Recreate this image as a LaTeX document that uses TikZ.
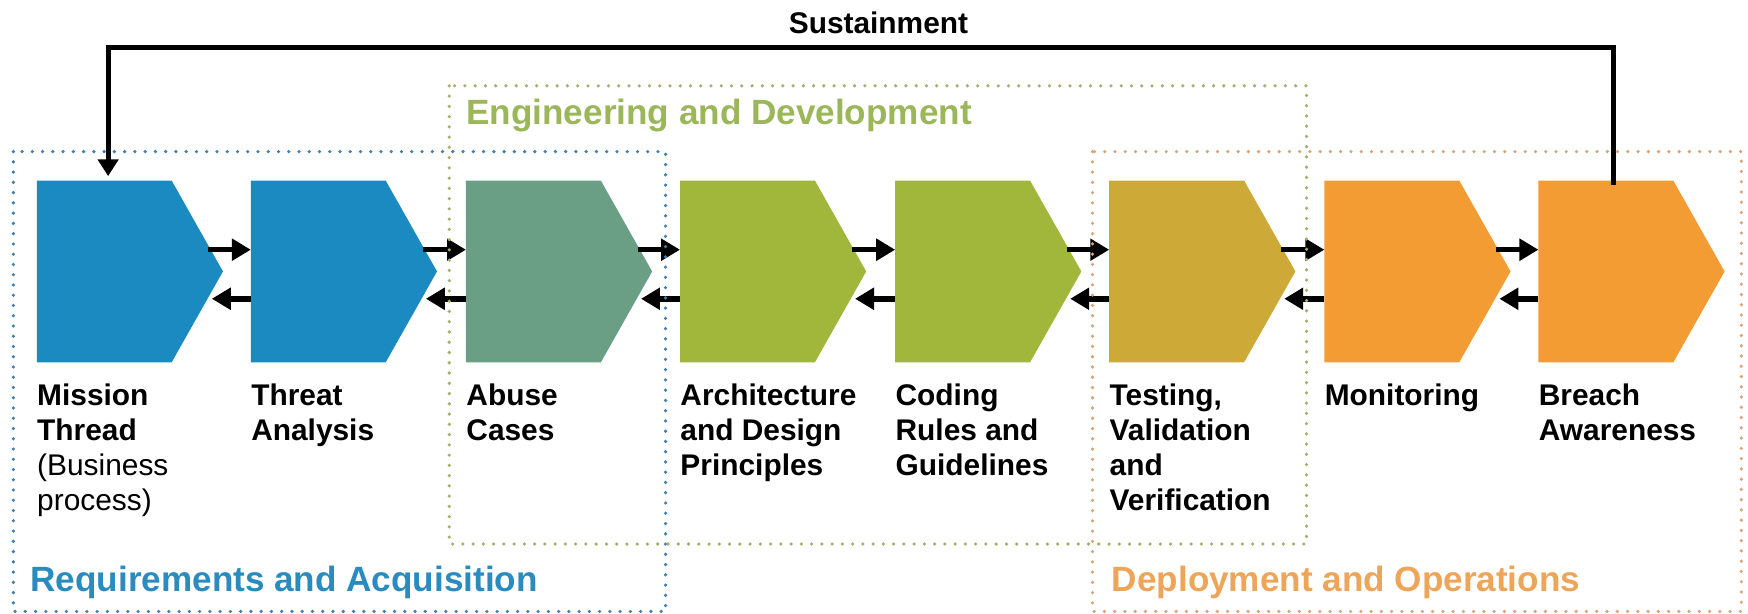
\documentclass[tikz,border=0pt]{standalone}
\usepackage{fontspec}
\setmainfont{Liberation Sans}
\usetikzlibrary{calc,arrows.meta}
\definecolor{cblue}{HTML}{1A8AC0}
\definecolor{cteal}{HTML}{6A9E85}
\definecolor{cgreen}{HTML}{A0B73C}
\definecolor{cmust}{HTML}{CDA938}
\definecolor{corange}{HTML}{F29C33}
\definecolor{dblue}{HTML}{3F7FB3}
\definecolor{dgreen}{HTML}{A8AC6C}
\definecolor{dorange}{HTML}{D9A47A}
\definecolor{tblue}{HTML}{2A8BBE}
\definecolor{tgreen}{HTML}{9CB65A}
\definecolor{torange}{HTML}{EDA55A}
\newcommand{\lines}[1]{\begin{tabular}[t]{@{}l@{}}#1\end{tabular}}
\begin{document}
\begin{tikzpicture}[x=0.5pt,y=-0.5pt,
  shp/.style={draw=none, inner sep=0, outer sep=0, minimum width=83.5pt, minimum height=81.5pt, anchor=north west},
  arr/.style={line width=2.5pt, -{Triangle[length=8.5pt,width=9.5pt]}},
  sus/.style={line width=2.2pt, -{Triangle[length=7.5pt,width=9pt]}},
  lab/.style={anchor=base west, inner sep=0, font=\fontsize{13.4}{15.7}\selectfont\bfseries},
  ttl/.style={anchor=base west, inner sep=0, font=\fontsize{15.75}{18}\selectfont\bfseries},
  grp/.style={line width=1.6pt, line cap=round, dash pattern=on 0pt off 4.6pt},
]
\useasboundingbox (0,0) rectangle (1568,550);

% chevron anchors
\node[shp] (s1) at (33,162) {};
\node[shp] (s2) at (225,162) {};
\node[shp] (s3) at (418,162) {};
\node[shp] (s4) at (610,162) {};
\node[shp] (s5) at (803,162) {};
\node[shp] (s6) at (995,162) {};
\node[shp] (s7) at (1188,162) {};
\node[shp] (s8) at (1380,162) {};

\foreach \n/\c in {s1/cblue,s2/cblue,s3/cteal,s4/cgreen,s5/cgreen,s6/cmust,s7/corange,s8/corange}{
  \fill[\c] (\n.north west) -- ($(\n.north west)+(121,0)$) -- (\n.east)
    -- ($(\n.south west)+(121,0)$) -- (\n.south west) -- cycle;
}

% arrows between steps
\foreach \a/\b in {s1/s2,s2/s3,s3/s4,s4/s5,s5/s6,s6/s7,s7/s8}{
  \draw[arr] ($(\a.east)+(-13,-19.5)$) -- ($(\b.west)+(0,-19.5)$);
  \draw[arr] ($(\b.west)+(0,24.5)$) -- ($(\a.east)+(-10,24.5)$);
}

% sustainment loop
\coordinate (sr) at ($(s8.north west)+(67,4)$);
\coordinate (sl) at ($(s1.north west)+(64,-4)$);
\draw[sus] (sr) -- ($(sr)+(0,-123)$) -| (sl);
\node[lab, anchor=base] (sust) at (788,30) {Sustainment};

% labels
\node[lab] (l1) at ($(s1.south west)+(0,38.3)$) {\lines{Mission\\Thread\\\mdseries(Business\\\mdseries process)}};
\node[lab] (l2) at ($(s2.south west)+(0,38.3)$) {\lines{Threat\\Analysis}};
\node[lab] (l3) at ($(s3.south west)+(0,38.3)$) {\lines{Abuse\\Cases}};
\node[lab] (l4) at ($(s4.south west)+(0,38.3)$) {\lines{Architecture\\and Design\\Principles}};
\node[lab] (l5) at ($(s5.south west)+(0,38.3)$) {\lines{Coding\\Rules and\\Guidelines}};
\node[lab] (l6) at ($(s6.south west)+(0,38.3)$) {\lines{Testing,\\Validation\\and\\Verification}};
\node[lab] (l7) at ($(s7.south west)+(0,38.3)$) {\lines{Monitoring}};
\node[lab] (l8) at ($(s8.south west)+(0,38.3)$) {\lines{Breach\\Awareness}};

% group frames
\draw[grp, dblue] (12,136) rectangle (597,548.5);
\draw[grp, dgreen] (403,77) rectangle (1172,488);
\draw[grp, dorange] (980,136) rectangle (1562,548.5);
\node[ttl, tblue] (tReq) at (27,531) {Requirements and Acquisition};
\node[ttl, tgreen] (tEng) at (418,112) {Engineering and Development};
\node[ttl, torange] (tDep) at (997,531) {Deployment and Operations};
\end{tikzpicture}
\end{document}
